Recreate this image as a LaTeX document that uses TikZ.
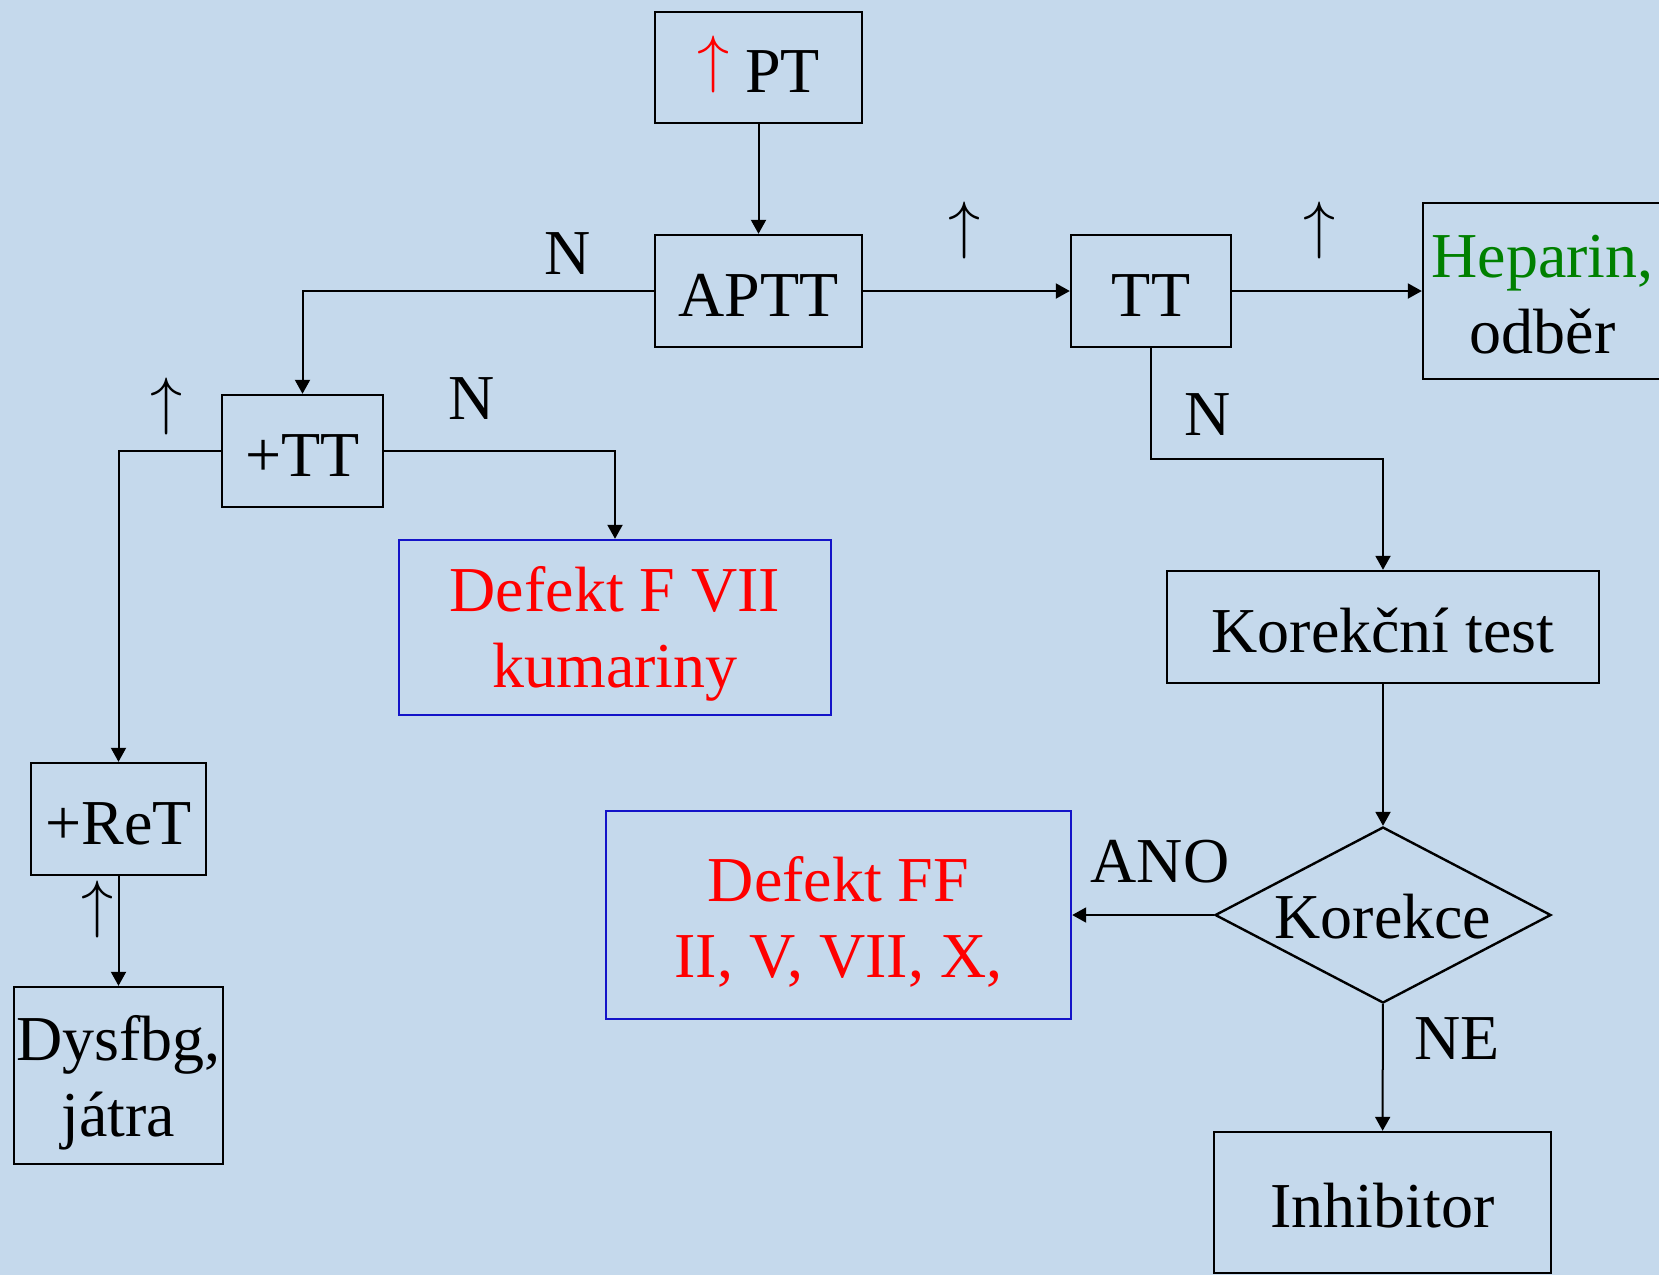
\documentclass[tikz,border=0pt]{standalone}
\usepackage{graphicx}
\usepackage{fontspec}
\setmainfont{Liberation Serif}
\usetikzlibrary{arrows.meta,shapes.geometric}
\definecolor{bg}{RGB}{197,217,236}
\definecolor{myred}{RGB}{255,0,0}
\definecolor{mygreen}{RGB}{0,128,0}
\definecolor{myblue}{RGB}{20,20,200}
\newcommand{\uparr}{\scalebox{1.29}{$\uparrow$}}
\begin{document}
\begin{tikzpicture}[x=0.5pt,y=-0.5pt,
  box/.style={draw=black, line width=1.2pt, inner sep=0pt},
  bluebox/.style={box, draw=myblue},
  txt/.style={inner sep=0pt, font=\fontsize{32}{38}\selectfont, text height=22pt, text depth=0pt},
  txtb/.style={inner sep=0pt, align=center, font=\fontsize{32}{38}\selectfont},
  lbl/.style={inner sep=0pt, font=\fontsize{32}{38}\selectfont},
  conn/.style={line width=1pt, -{Triangle[length=7pt,width=7.5pt]}}]
\useasboundingbox (0,0) rectangle (1659,1275);
\fill[bg] (0,0) rectangle (1659,1275);

% boxes
\node[box, minimum width=103.5pt, minimum height=55.5pt] (pt) at (758.5,67.5) {};
\node[box, minimum width=103.5pt, minimum height=56pt] (aptt) at (758.5,291) {};
\node[box, minimum width=80pt, minimum height=56pt] (tt) at (1151,291) {};
\node[box, minimum width=119.5pt, minimum height=88pt] (hep) at (1542.5,291) {};
\node[box, minimum width=80.5pt, minimum height=56pt] (ptt) at (302.5,451) {};
\node[bluebox, minimum width=216pt, minimum height=87.5pt] (fvii) at (615,627.5) {};
\node[box, minimum width=216pt, minimum height=56pt] (kt) at (1383,627) {};
\node[diamond, draw=black, line width=1.2pt, inner sep=0pt, minimum width=168pt, minimum height=88pt] (kor) at (1383,915) {};
\node[bluebox, minimum width=232.5pt, minimum height=104pt] (ff) at (838.5,915) {};
\node[box, minimum width=87.5pt, minimum height=56pt] (ret) at (118.5,819) {};
\node[box, minimum width=104.5pt, minimum height=88.5pt] (dys) at (118.5,1075.5) {};
\node[box, minimum width=168.5pt, minimum height=70.5pt] (inh) at (1382.5,1202.5) {};

% texts in boxes
\node[txt] (ptT) at ([yshift=-1.6pt]pt.center) {\textcolor{myred}{\raisebox{6.2pt}{\uparr}} PT};
\node[txt] (apttT) at ([yshift=-1.6pt]aptt.center) {APTT};
\node[txt] (ttT) at ([yshift=-1.6pt]tt.center) {TT};
\node[txtb] (hepT) at ([yshift=-1.9pt]hep.center) {\textcolor{mygreen}{Heparin,}\\odběr};
\node[txt] (pttT) at ([yshift=-1.6pt]ptt.center) {+TT};
\node[txtb, text=myred] (fviiT) at ([yshift=-3.2pt]fvii.center) {Defekt F VII\\kumariny};
\node[txt] (ktT) at ([yshift=-1.6pt]kt.center) {Korekční test};
\node[txt] (korT) at ([yshift=-0.6pt]kor.center) {Korekce};
\node[txtb, text=myred] (ffT) at ([yshift=-3.2pt]ff.center) {Defekt FF\\II, V, VII, X,};
\node[txt] (retT) at ([yshift=-1.6pt]ret.center) {+ReT};
\node[txtb] (dysT) at ([yshift=-3.6pt]dys.center) {Dysfbg,\\játra};
\node[txt] (inhT) at ([yshift=-1.6pt]inh.center) {Inhibitor};

% connectors
\coordinate (ttbend) at (1151,459);
\draw[conn] (pt) -- (aptt);
\draw[conn] (aptt.west) -| (ptt.north);
\draw[conn] (aptt) -- (tt);
\draw[conn] (tt) -- (hep);
\draw[conn] (tt.south) -- (ttbend) -| (kt.north);
\draw[conn] (ptt.east) -| (fvii.north);
\draw[conn] (ptt.west) -| (ret.north);
\draw[conn] (ret) -- (dys);
\draw[conn] (kt) -- (kor);
\draw[conn] (kor.west) -- (ff.east);
\draw[conn] (kor) -- (inh);

% labels
\node[lbl] (l1) at (568,254) {N};
\node[lbl] (l2) at (965,230) {\uparr};
\node[lbl] (l3) at (1320,230) {\uparr};
\node[lbl] (l4) at (167,406) {\uparr};
\node[lbl] (l5) at (472,399) {N};
\node[lbl] (l6) at (1208,415) {N};
\node[lbl] (l7) at (1160,862) {ANO};
\node[lbl] (l8) at (1457,1039) {NE};
\node[lbl] (l9) at (98,909) {\uparr};
\end{tikzpicture}
\end{document}
